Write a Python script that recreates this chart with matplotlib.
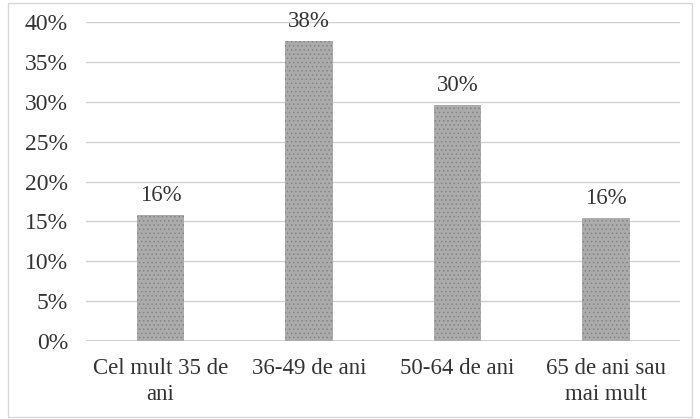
import matplotlib.pyplot as plt
from matplotlib.patches import Rectangle

categories = ["Cel mult 35 de\nani", "36-49 de ani", "50-64 de ani", "65 de ani sau\nmai mult"]
values = [15.8, 37.6, 29.6, 15.4]
value_labels = ["16%", "38%", "30%", "16%"]
y_ticks = [0, 5, 10, 15, 20, 25, 30, 35, 40]

plt.rcParams['font.family'] = ['Liberation Serif', 'DejaVu Serif']
plt.rcParams['hatch.linewidth'] = 0.6

fig = plt.figure(figsize=(7, 4.19), dpi=100)
ax = fig.add_axes([0.123, 0.186, 0.849, 0.761])

x = range(len(categories))
bars = ax.bar(x, values, width=0.32, color='#ababab', edgecolor='#858585',
              hatch='....', linewidth=0, zorder=3)

for xi, v, lab in zip(x, values, value_labels):
    ax.text(xi, v + 1.2, lab, ha='center', va='bottom', fontsize=16.5, color='#333333')

ax.set_ylim(0, 40)
ax.set_xlim(-0.5, len(categories) - 0.5)
ax.set_yticks(y_ticks)
ax.set_yticklabels([f"{t}%" for t in y_ticks], fontsize=17, color='#333333')
ax.set_xticks(list(x))
ax.set_xticklabels(categories, fontsize=16.5, color='#333333', linespacing=1.3)
ax.tick_params(axis='both', length=0)
ax.tick_params(axis='y', pad=13)
ax.tick_params(axis='x', pad=12)
ax.grid(axis='y', color='#d0d0d0', linewidth=1, zorder=0)
for s in ax.spines.values():
    s.set_visible(False)
ax.axhline(0, color='#c8c8c8', linewidth=1.2, zorder=2)

# light frame round the chart
fig.patches.append(Rectangle((0.012, 0.004), 0.976, 0.99, transform=fig.transFigure,
                             fill=False, edgecolor='#d8d8d8', linewidth=1))

fig.savefig("out.png", dpi=100)
